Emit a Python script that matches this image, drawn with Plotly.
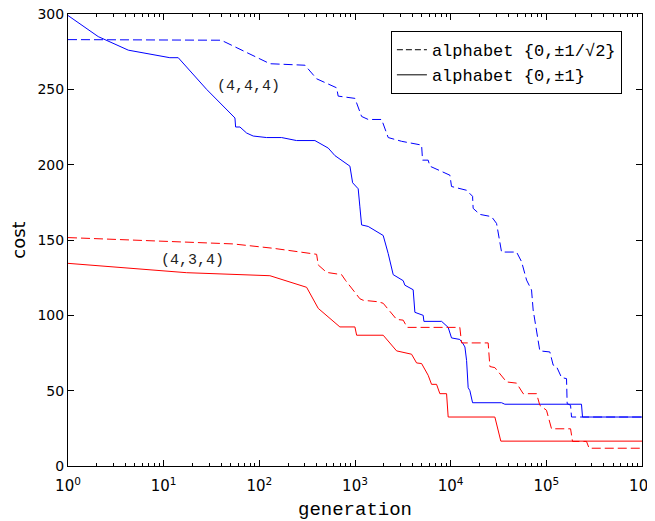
import plotly.graph_objects as go

# (4,4,4) alphabet {0,±1}
blue_solid_gen = [1, 2.07, 4.27, 11.6, 14.2, 28.1, 55.6, 56.5, 62.7, 73.6, 86.3, 119, 171, 245, 381,
                  525, 617, 885, 944, 1080, 1125, 1172, 1374, 1747, 1971, 2223, 2317, 2508, 3190,
                  3320, 4055, 4227, 5162, 5250, 8040, 9420, 10210, 12470, 13510, 14090, 14670,
                  15240, 15880, 16940, 34040, 36840, 233000, 239000, 1e6]
blue_solid_cost = [299, 285, 276, 271, 271, 250, 231, 225, 225, 221, 219, 218, 218, 216, 216,
                   211, 206, 199, 188, 184, 172, 160, 159, 155, 153, 141, 136, 127, 123,
                   120, 117, 102, 100, 96, 96, 92, 85, 84, 81, 79, 70,
                   52, 50, 42, 42, 41, 41, 32.5, 32.5]

# (4,4,4) alphabet {0,±1/√2}
blue_dash_gen = [1, 40, 129, 300, 397, 643, 667, 998, 1172, 1374, 1897, 2223, 3069, 4966, 5083,
                 5821, 6063, 9817, 10210, 14670, 16940, 17180, 20180, 26740, 30180, 34040, 48850,
                 55100, 62140, 70050, 72840, 85500, 108800, 117900, 127800, 144200, 162600,
                 165100, 179200, 183400, 1e6]
blue_dash_cost = [283, 282.6, 267, 266, 257, 251, 245.5, 244, 232, 230, 230, 218, 215.5, 213, 203,
                  203, 199, 193, 185.5, 183, 179, 171, 167, 165.5, 161, 142, 142,
                  135.6, 123.4, 116.8, 103.5, 76.4, 75.7, 67, 66, 58.7, 58,
                  41.4, 40.3, 32.5, 32.5]

# (4,3,4) alphabet {0,±1/√2}
red_dash_gen = [1, 53, 140, 397, 413, 505, 724, 800, 1125, 1219, 1747, 1971, 2722, 3190, 3510,
                12470, 13000, 24660, 25700, 28970, 38380, 48850, 57290, 79040, 85500, 100400,
                113300, 179200, 187800, 263000, 280000, 1e6]
red_dash_cost = [151.6, 147.4, 144.5, 140.5, 133.4, 128.5, 127, 123, 111, 110, 109, 108, 97.3, 96.8, 92,
                 92, 81.7, 81.7, 66, 65.3, 55.8, 55, 48, 48, 40.3, 37,
                 24.7, 24.7, 16.3, 16.3, 11.8, 11.8]

# (4,3,4) alphabet {0,±1}
red_solid_gen = [1, 17.4, 129, 312, 413, 695, 998, 1040, 1971, 2722, 3900, 4404, 4966, 5821, 6310,
                 7120, 7710, 9060, 9420, 28970, 33440, 1e6]
red_solid_cost = [134.5, 128.3, 126.3, 118.6, 104.6, 92.3, 92.3, 86.8, 86.8, 76.4, 74.2, 68.4, 68,
                  60.2, 54.2, 54.2, 48, 48, 32.5, 32.5, 16.5, 16.5]

x_tick_vals = [1, 10, 100, 1000, 10000, 100000, 1000000]
x_tick_text = ["10<sup>0</sup>", "10<sup>1</sup>", "10<sup>2</sup>", "10<sup>3</sup>",
               "10<sup>4</sup>", "10<sup>5</sup>", "10<sup>6</sup>"]
minor_vals = [m * 10 ** k for k in range(6) for m in range(2, 10)]

MONO = "Liberation Mono, Courier New, monospace"
SANS = "DejaVu Sans, sans-serif"
DASH = "9px,4px"

fig = go.Figure()
fig.add_trace(go.Scatter(x=blue_dash_gen, y=blue_dash_cost, mode="lines",
                         line=dict(color="#0000ff", width=1, dash=DASH), showlegend=False))
fig.add_trace(go.Scatter(x=blue_solid_gen, y=blue_solid_cost, mode="lines",
                         line=dict(color="#0000ff", width=1), showlegend=False))
fig.add_trace(go.Scatter(x=red_dash_gen, y=red_dash_cost, mode="lines",
                         line=dict(color="#ff0000", width=1, dash=DASH), showlegend=False))
fig.add_trace(go.Scatter(x=red_solid_gen, y=red_solid_cost, mode="lines",
                         line=dict(color="#ff0000", width=1), showlegend=False))
# legend-only black samples
fig.add_trace(go.Scatter(x=[None], y=[None], mode="lines",
                         line=dict(color="black", width=1, dash="6px,3px"),
                         name="alphabet {0,±1/√2}"))
fig.add_trace(go.Scatter(x=[None], y=[None], mode="lines",
                         line=dict(color="black", width=1),
                         name="alphabet {0,±1}"))

fig.add_annotation(x=1.891, y=251.8, xref="x", yref="y", text="(4,4,4)", showarrow=False,
                   font=dict(family=MONO, size=15, color="#222"))
fig.add_annotation(x=1.301, y=136.7, xref="x", yref="y", text="(4,3,4)", showarrow=False,
                   font=dict(family=MONO, size=15, color="#222"))

fig.update_layout(
    width=647, height=513,
    margin=dict(l=60, r=13, t=6, b=55),
    paper_bgcolor="white", plot_bgcolor="white",
    showlegend=True,
    legend=dict(x=0.965, y=0.962, xanchor="right", yanchor="top",
                bordercolor="black", borderwidth=1, bgcolor="white",
                font=dict(family=MONO, size=17, color="black"),
                tracegroupgap=0, itemwidth=30),
    xaxis=dict(type="log", range=[0, 6], tickvals=x_tick_vals, ticktext=x_tick_text,
               automargin=False, ticklabeloverflow="allow", ticklabelstandoff=6,
               ticks="inside", ticklen=6, tickcolor="black", showline=True, linecolor="black",
               linewidth=1, mirror="allticks", showgrid=False, zeroline=False,
               minor=dict(tickvals=minor_vals, ticks="inside", ticklen=3, tickcolor="black"),
               tickfont=dict(family=SANS, size=15, color="black"),
               title=dict(text="generation", font=dict(family=MONO, size=19, color="black"),
                          standoff=10)),
    yaxis=dict(range=[0, 300], dtick=50, ticks="inside", ticklen=6, tickcolor="black",
               automargin=False, ticklabeloverflow="allow",
               showline=True, linecolor="black", linewidth=1, mirror="allticks",
               showgrid=False, zeroline=False,
               tickfont=dict(family=SANS, size=14, color="black"),
               title=dict(text="cost", font=dict(family=SANS, size=18,
                                                 color="black"), standoff=10)),
)

fig.write_html("out.html")
